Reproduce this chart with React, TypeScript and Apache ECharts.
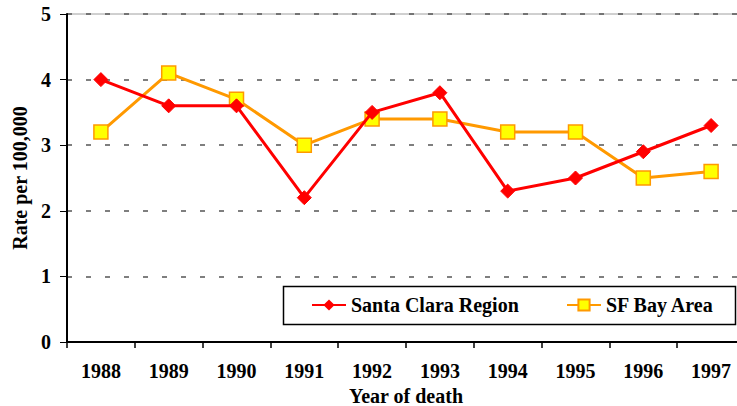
import React, { useEffect, useRef } from "react";
import * as echarts from "echarts";

const years = ["1988", "1989", "1990", "1991", "1992", "1993", "1994", "1995", "1996", "1997"];
const santaClara = [4.0, 3.6, 3.6, 2.2, 3.5, 3.8, 2.3, 2.5, 2.9, 3.3];
const sfBayArea = [3.2, 4.1, 3.7, 3.0, 3.4, 3.4, 3.2, 3.2, 2.5, 2.6];
const seriesNames = ["Santa Clara Region", "SF Bay Area"];

const FONT = "Liberation Serif";

export default function App() {
  const ref = useRef<HTMLDivElement>(null);
  useEffect(() => {
    if (!ref.current) return;
    const chart = echarts.init(ref.current, undefined, { renderer: "svg" });
    const textBase = { fontFamily: FONT, fontWeight: "bold" as const, color: "#000" };
    chart.setOption({
      animation: false,
      backgroundColor: "#fff",
      grid: {
        left: 67,
        top: 14,
        width: 678,
        height: 328,
        containLabel: false,
        outerBoundsMode: "none",
        show: true,
        borderColor: "#a0a0a0",
        borderWidth: 1,
        backgroundColor: "transparent",
      },
      xAxis: {
        type: "category",
        data: years,
        boundaryGap: true,
        name: "Year of death",
        nameLocation: "middle",
        nameGap: 42,
        nameTextStyle: { ...textBase, fontSize: 20 },
        axisLine: { lineStyle: { color: "#000", width: 2 } },
        axisTick: { show: true, length: 6, lineStyle: { color: "#000", width: 1.5 } },
        axisLabel: { ...textBase, fontSize: 20, margin: 19 },
        splitLine: { show: false },
      },
      yAxis: {
        type: "value",
        min: 0,
        max: 5,
        interval: 1,
        name: "Rate per 100,000",
        nameLocation: "middle",
        nameGap: 37,
        nameTextStyle: { ...textBase, fontSize: 20 },
        axisLine: { show: true, lineStyle: { color: "#000", width: 2 } },
        axisTick: { show: true, length: 7, lineStyle: { color: "#000", width: 1 } },
        axisLabel: { ...textBase, fontSize: 20, margin: 16 },
        splitLine: { show: true, lineStyle: { color: "#555", type: [5, 14], width: 1.5 } },
      },
      legend: [
        {
          data: [seriesNames[0]],
          left: 311,
          top: 295,
          itemWidth: 34,
          itemHeight: 14,
          textStyle: { ...textBase, fontSize: 20 },
          padding: 0,
        },
        {
          data: [seriesNames[1]],
          left: 566,
          top: 295,
          itemWidth: 34,
          itemHeight: 14,
          textStyle: { ...textBase, fontSize: 20 },
          padding: 0,
        },
      ],
      graphic: [
        {
          type: "rect",
          shape: { x: 283.5, y: 286.5, width: 452, height: 38 },
          style: { fill: "#fff", stroke: "#000", lineWidth: 1.5 },
          z: 1,
          zlevel: 0,
        },
      ],
      series: [
        {
          name: seriesNames[0],
          type: "line",
          data: santaClara,
          symbol: "diamond",
          symbolSize: 14,
          lineStyle: { color: "#ff0000", width: 3 },
          itemStyle: { color: "#ff0000", borderColor: "#ff0000" },
          z: 3,
        },
        {
          name: seriesNames[1],
          type: "line",
          data: sfBayArea,
          symbol: "rect",
          symbolSize: 14,
          lineStyle: { color: "#ff9900", width: 3 },
          itemStyle: { color: "#ffff00", borderColor: "#ff9900", borderWidth: 1.5 },
          z: 2,
        },
      ],
    });
    return () => chart.dispose();
  }, []);
  return <div ref={ref} style={{ width: 737, height: 406, position: "absolute", left: 0, top: 0 }} />;
}
